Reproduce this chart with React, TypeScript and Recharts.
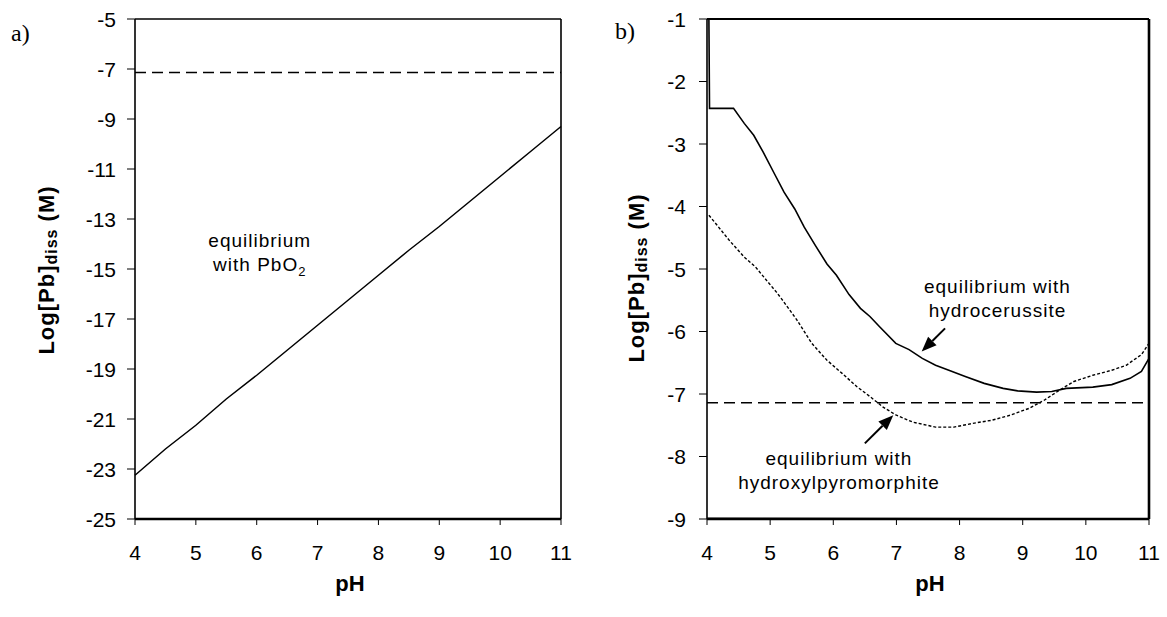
import React from "react";
import { LineChart, Line, XAxis, YAxis, ReferenceLine, ReferenceDot } from "recharts";

// panel a) – equilibrium with PbO2
const leftPH = [4, 4.5, 5, 5.5, 6, 6.5, 7, 7.5, 8, 8.5, 9, 9.5, 10, 10.5, 11];
const leftLog = [-23.25, -22.2, -21.25, -20.2, -19.25, -18.25, -17.25, -16.25, -15.25, -14.25, -13.3, -12.3, -11.3, -10.3, -9.3];

// panel b) – hydrocerussite (solid)
const hydroPH = [4.03, 4.04, 4.42, 4.59, 4.74, 4.89, 5.07, 5.22, 5.39, 5.54, 5.72, 5.9, 6.05, 6.25, 6.43, 6.58, 6.73, 6.99, 7.2, 7.41, 7.62, 7.83, 8.09, 8.39, 8.69, 8.92, 9.22, 9.46, 9.69, 10.11, 10.41, 10.7, 10.88, 11.0];
const hydroLog = [-1.0, -2.43, -2.43, -2.67, -2.86, -3.13, -3.48, -3.77, -4.04, -4.33, -4.63, -4.92, -5.1, -5.41, -5.63, -5.76, -5.92, -6.19, -6.29, -6.43, -6.54, -6.62, -6.72, -6.83, -6.91, -6.95, -6.97, -6.96, -6.91, -6.89, -6.85, -6.75, -6.64, -6.43];

// panel b) – hydroxylpyromorphite (dotted)
const pyroPH = [4.03, 4.12, 4.36, 4.59, 4.77, 4.95, 5.1, 5.19, 5.42, 5.66, 5.9, 6.14, 6.37, 6.58, 6.79, 7.0, 7.26, 7.62, 7.91, 8.21, 8.51, 8.8, 9.1, 9.34, 9.58, 9.81, 10.11, 10.41, 10.64, 10.88, 11.0];
const pyroLog = [-4.14, -4.25, -4.55, -4.81, -4.97, -5.19, -5.37, -5.49, -5.81, -6.19, -6.46, -6.67, -6.88, -7.04, -7.21, -7.34, -7.45, -7.53, -7.53, -7.47, -7.42, -7.34, -7.23, -7.1, -6.94, -6.8, -6.7, -6.62, -6.54, -6.37, -6.19];

// faint line along the bottom of panel b)
const bottomPH = [4, 11];
const bottomLog = [-8.985, -8.995];

const actionLevel = -7.14; // 15 ug/L
const phTicks = [4, 5, 6, 7, 8, 9, 10, 11];
const leftTicks = [-25, -23, -21, -19, -17, -15, -13, -11, -9, -7, -5];
const rightTicks = [-9, -8, -7, -6, -5, -4, -3, -2, -1];

const toPts = (xs: number[], ys: number[]) => xs.map((x, i) => ({ x, y: ys[i] }));

const FONT = "'Liberation Sans', Arial, sans-serif";

// tick label drawn by hand so the font size sticks
const Tick = ({ x, y, payload, textAnchor, vertical }: any) => (
  <text x={x} y={y} dy={vertical ? "0.36em" : "0.72em"} textAnchor={textAnchor}
    fontFamily={FONT} fontSize={21} fill="#000">
    {payload.value}
  </text>
);

const arrow = (p: any) => {
  const { x1, y1, x2, y2 } = p;
  const a = Math.atan2(y2 - y1, x2 - x1);
  const L = 15, W = 6;
  const bx = x2 - L * Math.cos(a), by = y2 - L * Math.sin(a);
  const nx = -Math.sin(a) * W, ny = Math.cos(a) * W;
  return (
    <g>
      <line x1={x1} y1={y1} x2={bx} y2={by} stroke="#000" strokeWidth={2} />
      <polygon points={`${x2},${y2} ${bx + nx},${by + ny} ${bx - nx},${by - ny}`} fill="#000" />
    </g>
  );
};

const note = (lines: React.ReactNode[]) => (p: any) => (
  <text x={p.cx} y={p.cy} textAnchor="middle" fontFamily={FONT} fontSize={19} letterSpacing={1} fill="#000">
    {lines.map((l, i) => (
      <tspan key={i} x={p.cx} dy={i === 0 ? 0 : 24}>{l}</tspan>
    ))}
  </text>
);

function PanelA() {
  return (
    <LineChart width={600} height={617} margin={{ top: 19, right: 39, left: 0, bottom: 0 }}>
      <XAxis type="number" dataKey="x" domain={[4, 11]} ticks={phTicks} interval={0}
        axisLine={{ stroke: "#000", strokeWidth: 2.4 }} tickLine={{ stroke: "#000" }} tickSize={6} tickMargin={20}
        tick={<Tick />} height={98} />
      <YAxis type="number" dataKey="y" domain={[-25, -5]} ticks={leftTicks} interval={0}
        axisLine={{ stroke: "#000", strokeWidth: 1.6 }} tickLine={{ stroke: "#000" }} tickSize={8} tickMargin={11}
        tick={<Tick vertical />} width={135} allowDataOverflow />
      <ReferenceLine y={-5} stroke="#000" strokeWidth={1.6} />
      <ReferenceLine x={11} stroke="#000" strokeWidth={1.6} />
      <ReferenceLine y={actionLevel} stroke="#000" strokeWidth={1.5} strokeDasharray="11 6" />
      <Line data={toPts(leftPH, leftLog)} dataKey="y" stroke="#000" strokeWidth={1.5} dot={false} isAnimationActive={false} />
      <ReferenceDot x={6.05} y={-14.1} r={0} shape={note(["equilibrium", <>with PbO<tspan fontSize={13} dy={5}>2</tspan></>])} />
    </LineChart>
  );
}

function PanelB() {
  return (
    <LineChart width={587} height={617} margin={{ top: 19, right: 18, left: 0, bottom: 0 }}>
      <XAxis type="number" dataKey="x" domain={[4, 11]} ticks={phTicks} interval={0}
        axisLine={{ stroke: "#000", strokeWidth: 2.4 }} tickLine={{ stroke: "#000" }} tickSize={6} tickMargin={20}
        tick={<Tick />} height={98} />
      <YAxis type="number" dataKey="y" domain={[-9, -1]} ticks={rightTicks} interval={0}
        axisLine={{ stroke: "#000", strokeWidth: 1.6 }} tickLine={{ stroke: "#000" }} tickSize={8} tickMargin={13}
        tick={<Tick vertical />} width={127} allowDataOverflow />
      <ReferenceLine y={-1} stroke="#000" strokeWidth={2} />
      <ReferenceLine x={11} stroke="#000" strokeWidth={2.6} />
      <ReferenceLine y={actionLevel} stroke="#000" strokeWidth={1.5} strokeDasharray="11 6" />
      <Line data={toPts(bottomPH, bottomLog)} dataKey="y" stroke="#000" strokeWidth={1} dot={false} isAnimationActive={false} />
      <Line data={toPts(pyroPH, pyroLog)} dataKey="y" stroke="#000" strokeWidth={1.4} strokeDasharray="3 2" dot={false} isAnimationActive={false} />
      <Line data={toPts(hydroPH, hydroLog)} dataKey="y" stroke="#000" strokeWidth={1.6} dot={false} isAnimationActive={false} />
      <ReferenceLine segment={[{ x: 7.77, y: -5.95 }, { x: 7.4, y: -6.32 }]} shape={arrow} />
      <ReferenceLine segment={[{ x: 6.5, y: -7.79 }, { x: 6.95, y: -7.34 }]} shape={arrow} />
      <ReferenceDot x={8.6} y={-5.38} r={0} shape={note(["equilibrium with", "hydrocerussite"])} />
      <ReferenceDot x={6.09} y={-8.13} r={0} shape={note(["equilibrium with", "hydroxylpyromorphite"])} />
    </LineChart>
  );
}

const YLabel = ({ cx, cy }: { cx: number; cy: number }) => (
  <text x={cx} y={cy} transform={`rotate(-90, ${cx}, ${cy})`} textAnchor="middle" dominantBaseline="central"
    fontFamily={FONT} fontSize={22} fontWeight="bold" letterSpacing={1} fill="#000">
    Log[Pb]<tspan fontSize={16} dy={5}>diss</tspan><tspan dy={-5}> (M)</tspan>
  </text>
);

export default function App() {
  return (
    <div style={{ position: "absolute", left: 0, top: 0, width: 1167, height: 617, background: "#fff" }}>
      <div style={{ position: "absolute", left: 0, top: 0 }}><PanelA /></div>
      <div style={{ position: "absolute", left: 580, top: 0 }}><PanelB /></div>
      <svg width={1167} height={617} style={{ position: "absolute", left: 0, top: 0, pointerEvents: "none" }}>
        <text x={11} y={41} fontFamily="'Liberation Serif', 'Times New Roman', serif" fontSize={24} fill="#000">a)</text>
        <text x={615} y={39} fontFamily="'Liberation Serif', 'Times New Roman', serif" fontSize={24} fill="#000">b)</text>
        <YLabel cx={46} cy={270} />
        <YLabel cx={636} cy={278} />
        <text x={350} y={591} textAnchor="middle" fontFamily={FONT} fontSize={22} fontWeight="bold" fill="#000">pH</text>
        <text x={930} y={591} textAnchor="middle" fontFamily={FONT} fontSize={22} fontWeight="bold" fill="#000">pH</text>
      </svg>
    </div>
  );
}
